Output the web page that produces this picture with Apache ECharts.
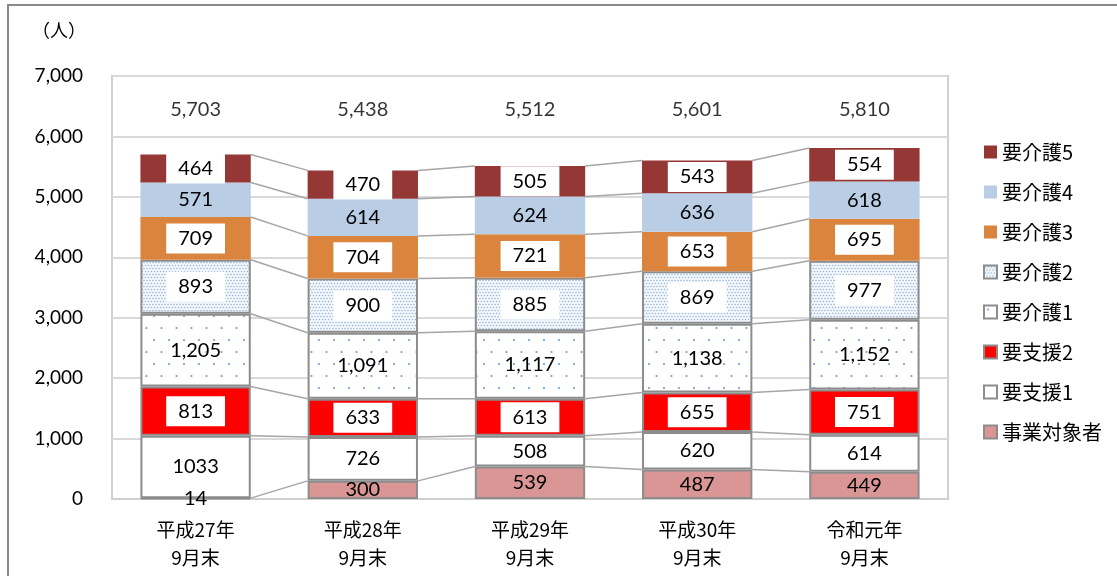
<!DOCTYPE html>
<html>
<head>
<meta charset="utf-8">
<script src="https://cdn.jsdelivr.net/npm/echarts@6/dist/echarts.min.js"></script>
<style>
  html, body { margin: 0; padding: 0; background: #fff; }
  #chart { width: 1117px; height: 576px; }
</style>
</head>
<body>
<div id="chart"></div>
<script>
// categories, bottom to top series
const categories = ['平成27年\n9月末', '平成28年\n9月末', '平成29年\n9月末', '平成30年\n9月末', '令和元年\n9月末'];
const seriesNames = ['事業対象者', '要支援1', '要支援2', '要介護1', '要介護2', '要介護3', '要介護4', '要介護5'];

const jigyo = [14, 300, 539, 487, 449];
const shien1 = [1033, 726, 508, 620, 614];
const shien2 = [813, 633, 613, 655, 751];
const kaigo1 = [1205, 1091, 1117, 1138, 1152];
const kaigo2 = [893, 900, 885, 869, 977];
const kaigo3 = [709, 704, 721, 653, 695];
const kaigo4 = [571, 614, 624, 636, 618];
const kaigo5 = [464, 470, 505, 543, 554];
const totals = [5703, 5438, 5512, 5601, 5810];

const yTicks = [0, 1000, 2000, 3000, 4000, 5000, 6000, 7000];

const NUM_FONT = 'Lato, "Noto Sans CJK JP", sans-serif';
const JP_FONT = '"Noto Sans CJK JP", sans-serif';
const BAR_RATIO = 0.66;
const BORDER = '#8c8c8c';

function makePattern(w, h, dots, r, color) {
  const c = document.createElement('canvas');
  c.width = w;
  c.height = h;
  const ctx = c.getContext('2d');
  ctx.fillStyle = '#fff';
  ctx.fillRect(0, 0, w, h);
  ctx.fillStyle = color;
  dots.forEach(([x, y]) => {
    ctx.beginPath();
    ctx.arc(x, y, r, 0, Math.PI * 2);
    ctx.fill();
  });
  return { image: c, repeat: 'repeat' };
}

const densePattern = makePattern(6, 6, [[1.5, 1.5], [4.5, 1.5], [0, 4.5], [3, 4.5], [6, 4.5]], 0.9, '#9dbde6');
const sparsePattern = makePattern(15, 24, [[4, 4], [11.5, 16]], 1.1, '#6f9bd4');

const fmt = (v) => v.toLocaleString('en-US');

const boxed = {
  show: true,
  position: 'inside',
  color: '#000',
  fontSize: 20,
  fontFamily: NUM_FONT,
  backgroundColor: '#fff',
  padding: [5, 12],
};
const plain = {
  show: true,
  position: 'inside',
  color: '#000',
  fontSize: 20,
  fontFamily: NUM_FONT,
};

const styles = [
  { data: jigyo, item: { color: '#d99694', borderColor: BORDER, borderWidth: 2 }, label: { ...plain, formatter: (p) => String(p.value) } },
  { data: shien1, item: { color: '#ffffff', borderColor: BORDER, borderWidth: 2 }, label: { ...plain, formatter: (p) => String(p.value) } },
  { data: shien2, item: { color: '#ff0000', borderColor: BORDER, borderWidth: 2 }, label: { ...boxed, formatter: (p) => fmt(p.value) } },
  { data: kaigo1, item: { color: sparsePattern, borderColor: BORDER, borderWidth: 2 }, label: { ...plain, formatter: (p) => fmt(p.value) } },
  { data: kaigo2, item: { color: densePattern, borderColor: BORDER, borderWidth: 2 }, label: { ...boxed, formatter: (p) => fmt(p.value) } },
  { data: kaigo3, item: { color: '#db843d' }, label: { ...boxed, formatter: (p) => fmt(p.value) } },
  { data: kaigo4, item: { color: '#b9cde5' }, label: { ...plain, formatter: (p) => fmt(p.value) } },
  { data: kaigo5, item: { color: '#953735' }, label: { ...boxed, formatter: (p) => fmt(p.value) } },
];

const stackData = styles.map((s) => s.data);

const barSeries = styles.map((s, k) => ({
  name: seriesNames[k],
  type: 'bar',
  stack: 'total',
  barWidth: BAR_RATIO * 100 + '%',
  data: s.data,
  itemStyle: s.item,
  label: s.label,
  emphasis: { disabled: true },
  z: 3,
}));

// gray connectors between neighbouring bars at every segment top
const connectorSeries = {
  type: 'custom',
  silent: true,
  z: 2,
  data: categories.slice(0, -1).map((_, i) => [i, 0]),
  encode: { x: 0, y: 1 },
  renderItem(params, api) {
    const i = api.value(0);
    const half = api.size([1, 0])[0] * BAR_RATIO / 2;
    const children = [];
    let a = 0, b = 0;
    for (let k = 0; k < stackData.length; k++) {
      a += stackData[k][i];
      b += stackData[k][i + 1];
      const p1 = api.coord([i, a]);
      const p2 = api.coord([i + 1, b]);
      children.push({
        type: 'line',
        shape: { x1: p1[0] + half, y1: p1[1], x2: p2[0] - half, y2: p2[1] },
        style: { stroke: '#a6a6a6', lineWidth: 1.5 },
      });
    }
    return { type: 'group', children };
  },
};

const TOTAL_LABEL_Y = 6440;
const totalSeries = {
  type: 'scatter',
  silent: true,
  symbolSize: 0,
  data: totals.map((t, i) => [i, TOTAL_LABEL_Y, t]),
  label: {
    show: true,
    position: 'inside',
    color: '#000',
    fontSize: 20,
    fontFamily: NUM_FONT,
    formatter: (p) => fmt(p.value[2]),
  },
};

const chart = echarts.init(document.getElementById('chart'));
chart.setOption({
  backgroundColor: '#fff',
  animation: false,
  graphic: [
    {
      type: 'rect',
      shape: { x: 8, y: 5, width: 1200, height: 700 },
      style: { fill: 'none', stroke: '#8a8a8a', lineWidth: 2 },
      silent: true,
    },
    {
      type: 'text',
      left: 32,
      top: 21,
      style: { text: '（人）', fontSize: 18, fontFamily: JP_FONT, fill: '#000' },
    },
  ],
  grid: {
    left: 112,
    right: 169,
    top: 76,
    bottom: 77,
    show: true,
    borderColor: '#d0d0d0',
    borderWidth: 2,
    containLabel: false,
  },
  legend: {
    orient: 'vertical',
    left: 978,
    top: 137,
    itemWidth: 13,
    itemHeight: 13,
    itemGap: 20,
    icon: 'rect',
    selectedMode: false,
    data: seriesNames.slice().reverse(),
    textStyle: { fontSize: 20, fontFamily: JP_FONT, color: '#000' },
  },
  xAxis: {
    type: 'category',
    data: categories,
    axisTick: { show: false },
    axisLine: { lineStyle: { color: '#d0d0d0', width: 2 } },
    axisLabel: {
      color: '#000',
      fontSize: 19,
      fontFamily: JP_FONT,
      lineHeight: 28,
      margin: 17,
    },
  },
  yAxis: {
    type: 'value',
    min: yTicks[0],
    max: yTicks[yTicks.length - 1],
    interval: 1000,
    axisLine: { show: false },
    axisTick: { show: false },
    splitLine: { lineStyle: { color: '#d9d9d9', width: 2 } },
    axisLabel: {
      color: '#000',
      fontSize: 19,
      fontFamily: NUM_FONT,
      margin: 29,
      formatter: (v) => fmt(v),
    },
  },
  series: [...barSeries, connectorSeries, totalSeries],
});
</script>
</body>
</html>
